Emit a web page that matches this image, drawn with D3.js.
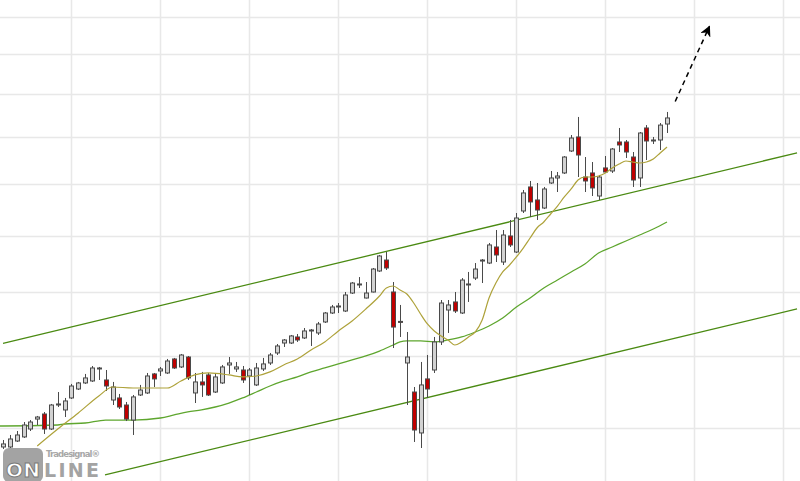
<!DOCTYPE html>
<html>
<head>
<meta charset="utf-8">
<script src="https://cdn.jsdelivr.net/npm/d3@7/dist/d3.min.js"></script>
<style>
html,body{margin:0;padding:0;background:#fff;}
svg{display:block;}
</style>
</head>
<body>
<div id="chart"></div>
<script>
// ---- DATA (weekly candles) ----
const open  = [6758,6758,6833,6885,6987,7117,7184,6987,7305,7238,7401,7525,7610,7638,7810,7652,7373,7401,7305,7104,
               7442,7470,7738,7781,7752,7956,7839,7985,7470,7624,7724,7483,7610,7868,7810,7795,7709,7582,7810,7897,
               8045,8195,8195,8287,8272,8380,8349,8521,8664,8761,8696,8991,9126,8908,9008,9366,9558,9008,8530,7897,
               7483,6936,7667,7795,8211,8712,8843,8664,9126,9244,9540,9505,9792,9523,9994,9701,10468,10945,10684,10526,
               11026,11129,11233,11700,12008,11149,11233,10763,11338,11274,11897,11897,11570,11129,12210,11941,11941,12300];
const high  = [6846,6910,6961,7078,7104,7158,7211,7319,7483,7401,7596,7624,7738,7853,7839,7795,7624,7456,7346,7442,
               7582,7752,7752,7839,7956,7971,8030,8000,7752,7767,7752,7752,7868,7985,7912,7853,7824,7897,7971,8045,
               8180,8256,8318,8333,8426,8411,8521,8680,8794,8826,9008,9176,9261,9176,9418,9648,9701,9176,8794,8364,
               7553,7912,8015,8287,8875,8875,9008,9244,9349,9505,9576,9865,10105,10105,10295,10429,10884,11067,11026,10945,
               11274,11253,11590,12052,12462,11570,11463,11191,11592,11765,12210,11941,11678,12119,12276,12008,12323,12578];
const low   = [6733,6745,6821,6872,6961,7039,6923,6974,7278,7144,7387,7511,7596,7624,7652,7497,7305,7251,7091,6910,
               7428,7456,7553,7709,7738,7810,7824,7652,7332,7415,7428,7470,7596,7738,7767,7610,7442,7567,7781,7868,
               8015,8135,8180,8211,8256,8150,8318,8505,8648,8664,8680,8975,9075,8900,9000,9349,9383,8119,8287,7305,
               6821,6745,7401,7752,8165,8349,8664,8648,8843,9210,9159,9487,9523,9470,9792,9684,10429,10352,10295,10506,
               11006,10843,11212,11678,11149,10843,10763,10684,11233,11233,11678,11549,10945,10945,11506,11852,11721,12097];
const close = [6796,6859,6910,7039,7078,7144,6987,7305,7319,7360,7567,7610,7681,7824,7824,7567,7553,7278,7117,7415,
               7511,7709,7667,7810,7926,7824,8015,7681,7624,7582,7442,7695,7839,7897,7839,7652,7795,7824,7883,8015,
               8150,8241,8303,8241,8380,8395,8489,8664,8761,8777,8958,9159,9143,8991,9400,9630,9418,8441,8520,7985,
               6974,7582,7525,8211,8826,8794,8696,9210,9143,9400,9558,9829,9648,10012,9829,10333,10824,10645,10487,10904,
               11129,11170,11570,11985,11613,11067,10925,11149,11253,11743,11831,11678,11087,12097,11919,11919,12276,12439];

// fast moving average (olive), candle index and value
const fastIdx = [5,8,11,14,16,19,24,26,28,30,33,35,37,39,41,43,45,47,49,51,53,55,56,57,58,59,60,61,62,63,64,65,66,67,68,69,70,
                 71,72,73,74,75,76,77,78,79,80,81,82,83,84,85,86,87,88,89,90,91,92,93,94,95,96,97];
const fastVal = [6771,6987,7198,7428,7553,7539,7539,7638,7724,7752,7724,7695,7709,7767,7868,7956,8089,8211,8380,8536,8728,8941,9075,9109,9041,8975,8826,8648,8489,8380,8303,8241,8165,8211,8287,8364,8552,
                 8908,9159,9349,9470,9612,9773,9957,10143,10257,10410,10565,10744,10904,11087,11149,11149,11170,11233,11338,11420,11485,11463,11442,11463,11527,11657,11786];

// slow moving average (green)
const slowIdx = [-1,0,8,9,12,15,19,23,25,27,29,31,33,35,37,39,41,43,45,47,49,51,53,55,57,58,59,61,63,65,67,69,71,73,75,77,79,81,83,85,87,89,91,93,95,97];
const slowVal = [7026,7026,7039,7052,7065,7104,7104,7131,7171,7211,7238,7278,7332,7401,7483,7567,7638,7695,7767,7824,7883,7941,8000,8074,8165,8211,8226,8226,8211,8241,8287,8364,8458,8584,8761,8908,9075,9210,9349,9487,9684,9792,9901,10012,10124,10257];

// trend channel lines: [start index, start value, end index, end value]
const upperTrend = [0, 8191, 116, 11659];
const lowerTrend = [14.9, 6417, 116, 8730];

// forecast arrow: [from index, from value, to index, to value]
const arrowPts = [98.2, 12826, 103.2, 14741];

// grid
const gridValues = [7000,8000,9000,10000,11000,12000,13000,14000,15000];
const gridIdx = [10,23,36,49,62,75,88,101,114];

// ---- DRAW ----
const W = 800, H = 481;
const svg = d3.select("#chart").append("svg").attr("width", W).attr("height", H);

const x = d3.scaleLinear().domain([0, 97]).range([3, 667]);
const y = d3.scaleLog().domain([7000, 15000]).range([428, 17]);

const px = v => Math.round(v) + 0.5;

// grid
svg.append("g").selectAll("line").data(gridValues).join("line")
  .attr("x1", 0).attr("x2", W)
  .attr("y1", d => px(y(d))).attr("y2", d => px(y(d)))
  .attr("stroke", "#e8e8e8").attr("stroke-width", 1.5);
svg.append("g").selectAll("line").data(gridIdx).join("line")
  .attr("y1", 0).attr("y2", H)
  .attr("x1", d => px(x(d))).attr("x2", d => px(x(d)))
  .attr("stroke", "#e8e8e8").attr("stroke-width", 1.5);

// trend lines
const trendColor = "#4a8a12";
[upperTrend, lowerTrend].forEach(t => {
  svg.append("line")
    .attr("x1", x(t[0])).attr("y1", y(t[1]))
    .attr("x2", x(t[2])).attr("y2", y(t[3]))
    .attr("stroke", trendColor).attr("stroke-width", 1.3);
});

// moving averages
const fastData = fastIdx.map((d, i) => [d, fastVal[i]]);
const slowData = slowIdx.map((d, i) => [d, slowVal[i]]);
const line = d3.line().x(d => x(d[0])).y(d => y(d[1])).curve(d3.curveMonotoneX);
svg.append("path").datum(slowData).attr("d", line)
  .attr("fill", "none").attr("stroke", "#5ea62e").attr("stroke-width", 1.3);

// candles
const candles = open.map((o, i) => ({i, o, h: high[i], l: low[i], c: close[i]}));
const cg = svg.append("g");
cg.selectAll("line").data(candles).join("line")
  .attr("x1", d => px(x(d.i))).attr("x2", d => px(x(d.i)))
  .attr("y1", d => y(d.h)).attr("y2", d => y(d.l))
  .attr("stroke", "#4a4a4a").attr("stroke-width", 1);
cg.selectAll("rect").data(candles).join("rect")
  .attr("x", d => Math.round(x(d.i)) - 1.5)
  .attr("width", 4)
  .attr("y", d => Math.min(y(d.o), y(d.c)))
  .attr("height", d => Math.max(1, Math.abs(y(d.o) - y(d.c))))
  .attr("fill", d => d.c >= d.o ? "#d2d2d2" : "#c00000")
  .attr("stroke", "#4a4a4a").attr("stroke-width", 1);

svg.append("path").datum(fastData).attr("d", line)
  .attr("fill", "none").attr("stroke", "#aea23a").attr("stroke-width", 1.2);

// dashed arrow
svg.append("defs").append("marker")
  .attr("id", "ah").attr("viewBox", "0 0 10 10").attr("refX", 9).attr("refY", 5)
  .attr("markerWidth", 11).attr("markerHeight", 11).attr("markerUnits", "userSpaceOnUse")
  .attr("orient", "auto")
  .append("path").attr("d", "M0,0 L10,5 L0,10 L3,5 Z").attr("fill", "#000");
svg.append("line")
  .attr("x1", x(arrowPts[0])).attr("y1", y(arrowPts[1]))
  .attr("x2", x(arrowPts[2])).attr("y2", y(arrowPts[3]))
  .attr("stroke", "#000").attr("stroke-width", 1.5)
  .attr("stroke-dasharray", "5,4")
  .attr("marker-end", "url(#ah)");

// logo
const logo = svg.append("g");
logo.append("rect").attr("x", 3).attr("y", 448).attr("width", 40).attr("height", 34).attr("rx", 6)
  .attr("fill", "#a3a3a3");
logo.append("text").attr("x", 6).attr("y", 477).text("ON")
  .attr("font-family", "DejaVu Sans, sans-serif").attr("font-weight", "bold").attr("font-size", 20)
  .attr("fill", "#fff").attr("stroke", "#7a7a7a").attr("stroke-width", 1).attr("textLength", 34);
logo.append("text").attr("x", 44).attr("y", 477).text("LINE")
  .attr("font-family", "DejaVu Sans, sans-serif").attr("font-weight", "bold").attr("font-size", 19)
  .attr("fill", "#a3a3a3").attr("textLength", 55);
logo.append("text").attr("x", 46).attr("y", 457).text("Tradesignal®")
  .attr("font-family", "DejaVu Sans, sans-serif").attr("font-weight", "bold").attr("font-size", 8.5)
  .attr("fill", "#a8a8a8").attr("textLength", 54);
</script>
</body>
</html>
